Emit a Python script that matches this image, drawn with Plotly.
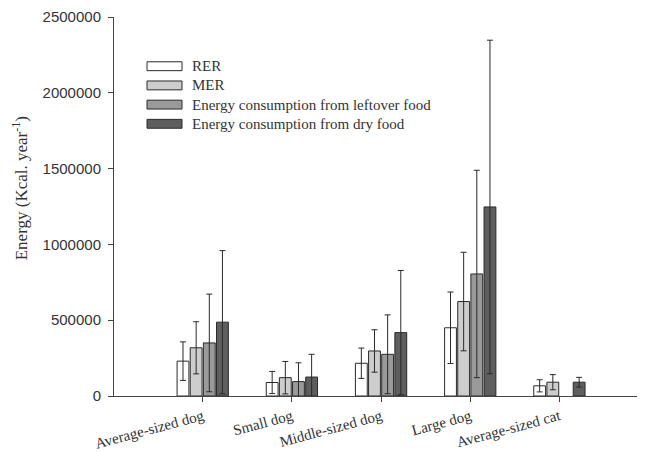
import plotly.graph_objects as go

categories = ["Average-sized dog", "Small dog", "Middle-sized dog", "Large dog", "Average-sized cat"]
series_names = ["RER", "MER", "Energy consumption from leftover food", "Energy consumption from dry food"]
rer = [230000, 89000, 216000, 450000, 67000]
rer_err = [127000, 73000, 100000, 236000, 40000]
mer = [318000, 121000, 297000, 623000, 91000]
mer_err = [172000, 107000, 140000, 325000, 50000]
leftover = [350000, 95000, 275000, 805000, None]
leftover_err = [322000, 124000, 260000, 684000, 0]
dry = [487000, 125000, 418000, 1247000, 91000]
dry_err = [472000, 150000, 410000, 1100000, 32000]
y_ticks = [0, 500000, 1000000, 1500000, 2000000, 2500000]

colors = ["#ffffff", "#cdcdcd", "#9a9a9a", "#5e5e5e"]
values = [rer, mer, leftover, dry]
errors = [rer_err, mer_err, leftover_err, dry_err]

# page body has an 8px margin, so the figure is offset by 8px
OFF = 8
W, H = 645 - OFF, 452 - OFF
L, R, T, B = 114 - OFF, 0, 16 - OFF, 51
pw, ph = W - L - R, H - T - B

fig = go.Figure()
for name, v, e, c in zip(series_names, values, errors, colors):
    fig.add_trace(go.Bar(
        x=categories, y=v, name=name,
        marker=dict(color=c, line=dict(color="#2a2a2a", width=1)),
        error_y=dict(type="data", array=e, visible=True, color="#2a2a2a",
                     thickness=1, width=3),
        showlegend=False,
    ))

# helpers: reference-image pixel -> paper coordinates
def px_x(p):
    return (p - OFF - L) / pw

def px_y(p):
    return (H - B - (p - OFF)) / ph

shapes = []
annotations = []
row_y = [66, 85.5, 105, 124.5]
for name, c, ry in zip(series_names, colors, row_y):
    shapes.append(dict(type="rect", xref="paper", yref="paper",
                       x0=px_x(147), x1=px_x(182), y0=px_y(ry + 4.5), y1=px_y(ry - 4.5),
                       fillcolor=c, line=dict(color="#2a2a2a", width=1)))
    annotations.append(dict(text=name, xref="paper", yref="paper",
                            x=px_x(190), y=px_y(ry), xanchor="left", yanchor="middle",
                            showarrow=False,
                            font=dict(family="Liberation Serif", size=15, color="#333333")))

annotations.append(dict(text="Energy (Kcal. year<sup>-1</sup>)", xref="paper", yref="paper",
                        x=px_x(20), y=px_y(190), xanchor="center", yanchor="middle",
                        textangle=-90, showarrow=False,
                        font=dict(family="Liberation Serif", size=17, color="#333333")))

fig.update_layout(
    width=W, height=H,
    margin=dict(l=L, r=R, t=T, b=B, pad=0),
    paper_bgcolor="white", plot_bgcolor="white",
    barmode="group", bargap=0.41, bargroupgap=0.1,
    shapes=shapes, annotations=annotations,
    showlegend=False,
)
fig.update_xaxes(
    range=[-0.995, 4.96], showgrid=False, zeroline=False,
    showline=True, linecolor="#444444", linewidth=1,
    ticks="outside", ticklen=5, tickcolor="#444444",
    tickangle=-15,
    tickfont=dict(family="Liberation Serif", size=15, color="#333333"),
)
fig.update_yaxes(
    range=[0, 2500000], tickvals=y_ticks, ticktext=[str(t) for t in y_ticks],
    showgrid=False, zeroline=False,
    showline=True, linecolor="#444444", linewidth=1,
    ticks="outside", ticklen=5, tickcolor="#444444",
    tickfont=dict(family="Liberation Sans", size=15, color="#333333"),
    ticklabelstandoff=4, ticklabeloverflow="allow",
)

fig.write_html("out.html")
